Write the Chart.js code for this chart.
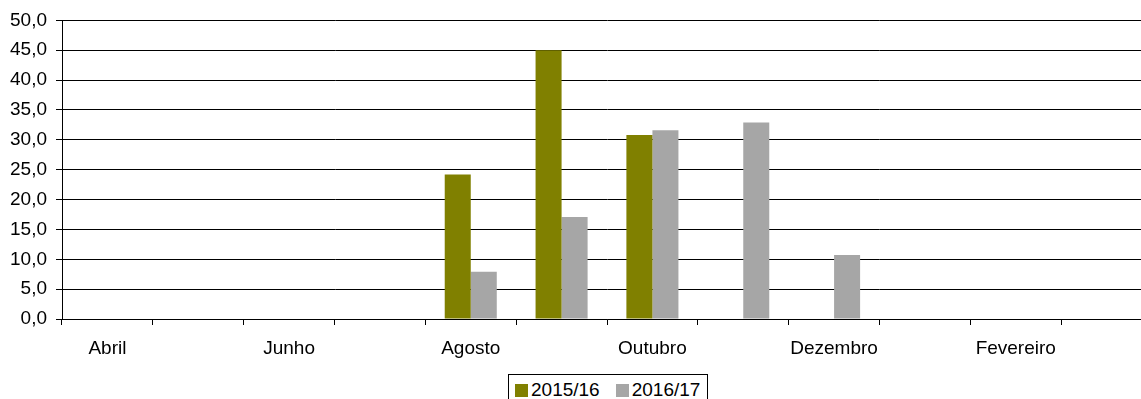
<!DOCTYPE html>
<html><head><meta charset="utf-8">
<script src="https://cdn.jsdelivr.net/npm/chart.js@4.4.1/dist/chart.umd.min.js"></script>
<style>
html,body{margin:0;padding:0;background:#fff;overflow:hidden;width:1141px;height:399px;}
#wrap{position:relative;width:1141px;height:399px;overflow:hidden;}
canvas{position:absolute;left:0;top:0;}
#legend{position:absolute;left:508px;top:374px;height:30px;border:1px solid #000;display:flex;align-items:center;padding:0 7px 0 6px;font:19px "Liberation Sans",Arial,sans-serif;color:#000;white-space:nowrap;background:#fff}
.item{display:flex;align-items:center}
.item+.item{margin-left:16px}
.sw{width:13px;height:13px;margin-right:3px}
</style></head>
<body><div id="wrap"><canvas id="c" width="1160" height="399" style="width:1160px;height:399px"></canvas><div id="legend"></div></div>
<script>
const categories = ['Abril','Maio','Junho','Julho','Agosto','Setembro','Outubro','Novembro','Dezembro','Janeiro','Fevereiro','Março'];
const seriesNames = ['2015/16','2016/17'];
const values2015_16 = [null,null,null,null,24.2,45.0,30.8,null,null,null,null,null];
const values2016_17 = [null,null,null,null,7.9,17.1,31.6,32.9,10.7,null,null,null];
const yTickValues = [0,5,10,15,20,25,30,35,40,45,50];
const yTickLabels = ['0,0','5,0','10,0','15,0','20,0','25,0','30,0','35,0','40,0','45,0','50,0'];
const seriesColors = ['#808000','#A6A6A6'];

const FONT = {family:'"Liberation Sans", Arial, sans-serif', size:19};
Chart.defaults.font.family = FONT.family;
Chart.defaults.color = '#000';

const datasets = [values2015_16, values2016_17].map((d,i)=>({
  label: seriesNames[i], data: d, backgroundColor: seriesColors[i],
  borderWidth: 0, categoryPercentage: 0.573, barPercentage: 1.0
}));

const chart = new Chart(document.getElementById('c'), {
  type: 'bar',
  data: { labels: categories, datasets },
  options: {
    responsive: false, animation: false,
    layout: { padding: { top: 20, right: 8, left: 0, bottom: 0 } },
    plugins: { legend: { display: false }, tooltip: { enabled: false } },
    scales: {
      x: {
        offset: true,
        grid: { drawOnChartArea: false, drawTicks: true, tickLength: 6, color: '#000', offset: true },
        border: { display: true, color: '#000', width: 1 },
        ticks: { autoSkip: false, maxRotation: 0, minRotation: 0, padding: 12, font: FONT, color: '#000',
          callback: (v, i) => (i % 2 === 0 ? categories[i] : '') },
        afterFit: s => { s.height = 80; }
      },
      y: {
        min: 0, max: 50,
        afterBuildTicks: s => { s.ticks = yTickValues.map(v => ({ value: v })); },
        grid: { color: '#000', tickLength: 6, drawTicks: true },
        border: { display: true, color: '#000', width: 1 },
        ticks: { padding: 9, font: FONT, color: '#000',
          callback: (v) => yTickLabels[yTickValues.indexOf(v)] },
        afterFit: s => { s.width = 62; }
      }
    }
  }
});

const legend = document.getElementById('legend');
seriesNames.forEach((n, i) => {
  const it = document.createElement('div'); it.className = 'item';
  const sw = document.createElement('div'); sw.className = 'sw'; sw.style.background = seriesColors[i];
  const tx = document.createElement('span'); tx.textContent = n;
  it.appendChild(sw); it.appendChild(tx); legend.appendChild(it);
});
</script>
</body></html>
